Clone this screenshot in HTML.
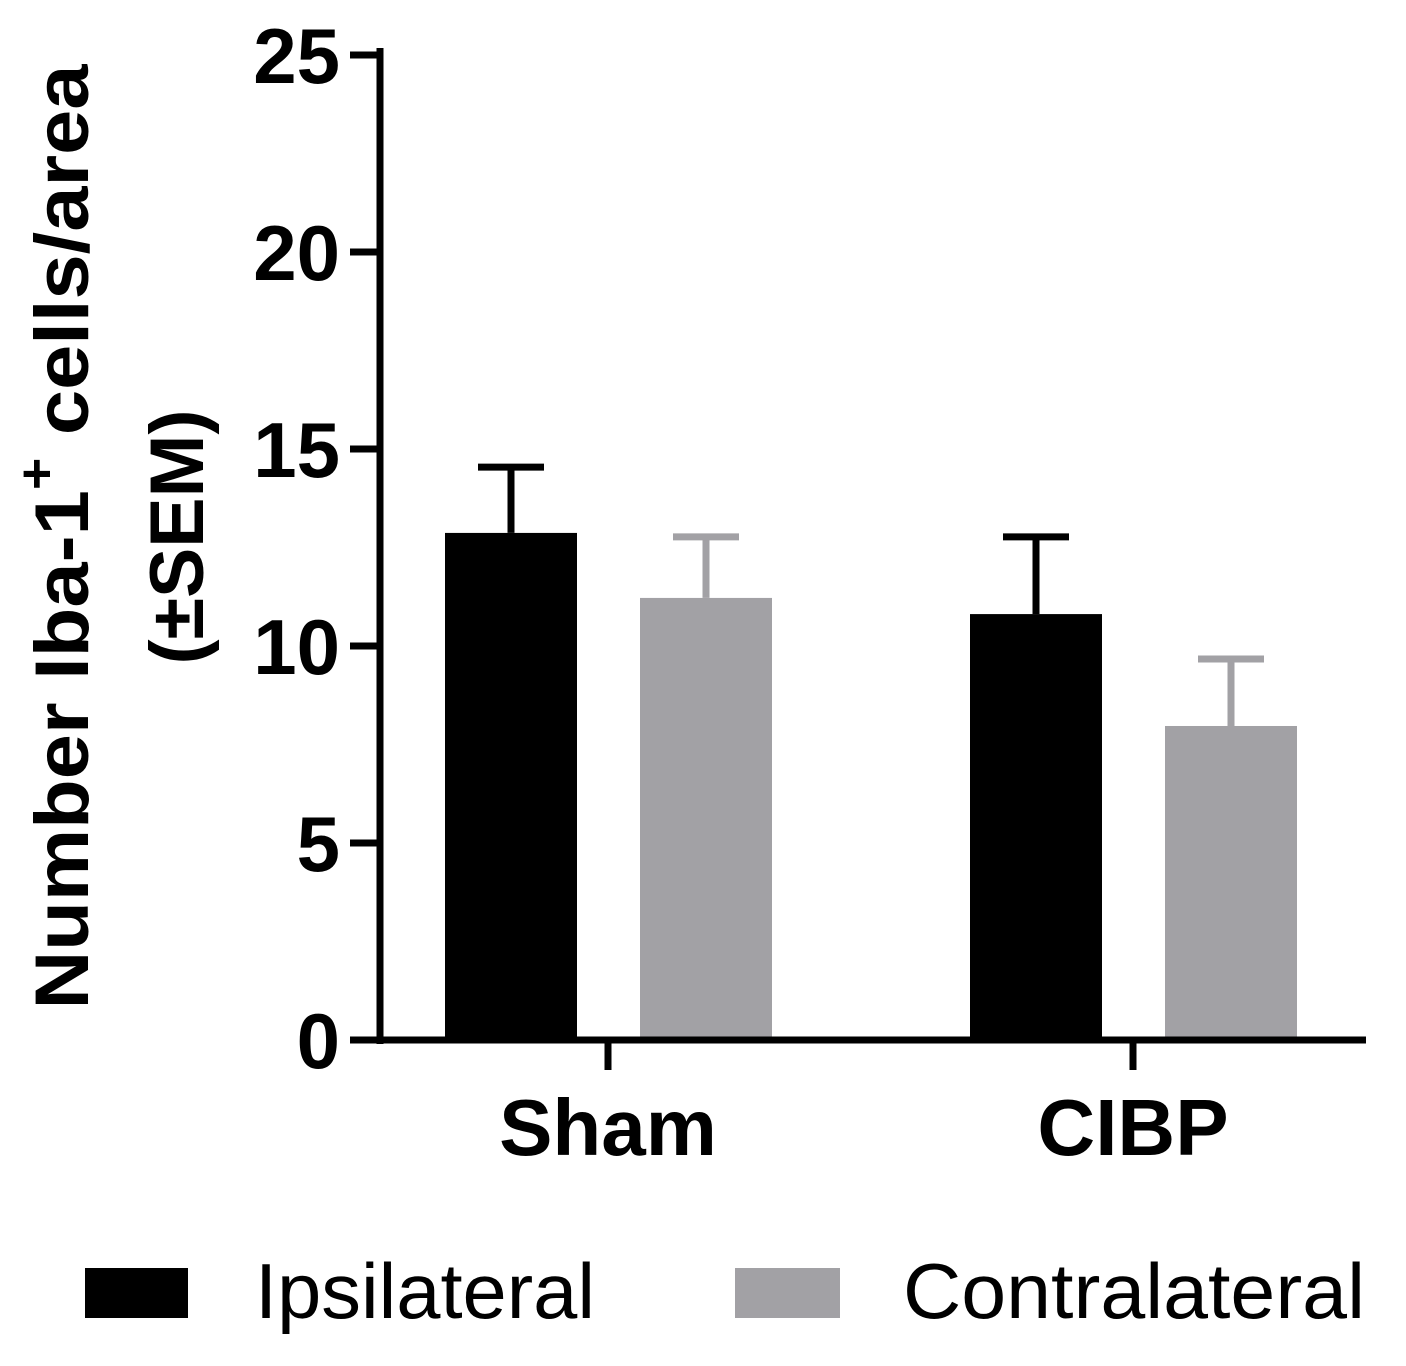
<!DOCTYPE html>
<html><head><meta charset="utf-8"><style>
body{margin:0;background:#fff;}
svg{display:block;font-family:"Liberation Sans",Arial,sans-serif;}
</style></head><body>
<svg id="chart" width="1406" height="1366" viewBox="0 0 1406 1366" xmlns="http://www.w3.org/2000/svg">
<g id="marks"></g>
<line x1="380" y1="48" x2="380" y2="1044" stroke="#000" stroke-width="7"/>
<line x1="377" y1="1040" x2="1366" y2="1040" stroke="#000" stroke-width="7"/>
<g id="yticks"></g>
<g id="xticks"></g>
<g font-weight="bold" font-size="76" text-anchor="middle">
<text transform="translate(88,537) rotate(-90)" textLength="945" lengthAdjust="spacingAndGlyphs">Number Iba-1<tspan font-size="52" dy="-34">+</tspan><tspan dy="34"> cells/area</tspan></text>
<text transform="translate(203,537) rotate(-90)" textLength="255" lengthAdjust="spacingAndGlyphs">(±SEM)</text>
</g>
<g>
<rect x="85" y="1268" width="103" height="50" fill="#000"/>
<text x="255" y="1318" font-size="78" textLength="340" lengthAdjust="spacingAndGlyphs">Ipsilateral</text>
<rect x="735" y="1268" width="105" height="50" fill="#a2a1a5"/>
<text x="903" y="1318" font-size="78" textLength="462" lengthAdjust="spacingAndGlyphs">Contralateral</text>
</g>
</svg>
<script>
const categories=["Sham","CIBP"];
const ipsiValues=[12.87,10.81];
const ipsiErrors=[1.67,1.96];
const contraValues=[11.22,7.97];
const contraErrors=[1.55,1.70];
const yTicks=[0,5,10,15,20,25];
const ns="http://www.w3.org/2000/svg";
function y(v){return 1040-v*39.4;}
const groupCenters=[608,1133];
function mk(tag,attrs,parent){const e=document.createElementNS(ns,tag);for(const k in attrs)e.setAttribute(k,attrs[k]);parent.appendChild(e);return e;}
const marks=document.getElementById('marks');
const series=[{vals:ipsiValues,errs:ipsiErrors,off:-97,color:"#000",name:"ipsilateral"},{vals:contraValues,errs:contraErrors,off:98,color:"#a2a1a5",name:"contralateral"}];
series.forEach(s=>{
  s.vals.forEach((v,i)=>{
    const cx=groupCenters[i]+s.off;
    const top=y(v+s.errs[i]);
    const el=mk('line',{x1:cx,y1:y(v),x2:cx,y2:top,stroke:s.color,'stroke-width':7},marks);
    
    
    const cap=mk('line',{x1:cx-33,y1:top,x2:cx+33,y2:top,stroke:s.color,'stroke-width':7},marks);
    
    
    const r=mk('rect',{x:cx-66,y:y(v),width:132,height:1040-y(v),fill:s.color},marks);
    
    
  });
});
const yt=document.getElementById('yticks');
yTicks.forEach(t=>{
  const l=mk('line',{x1:350,y1:y(t),x2:380,y2:y(t),stroke:"#000",'stroke-width':7},yt);
  
  
  const tx=mk('text',{x:340,y:y(t)+28,'text-anchor':'end','font-size':78,'font-weight':'bold'},yt);
  tx.textContent=t;
  
  
});
const xt=document.getElementById('xticks');
categories.forEach((c,i)=>{
  const l=mk('line',{x1:groupCenters[i],y1:1040,x2:groupCenters[i],y2:1070,stroke:"#000",'stroke-width':7},xt);
  
  
  const tx=mk('text',{x:groupCenters[i],y:1155,'text-anchor':'middle','font-size':80,'font-weight':'bold'},xt);
  tx.textContent=c;
  
  
});
</script>
</body></html>
